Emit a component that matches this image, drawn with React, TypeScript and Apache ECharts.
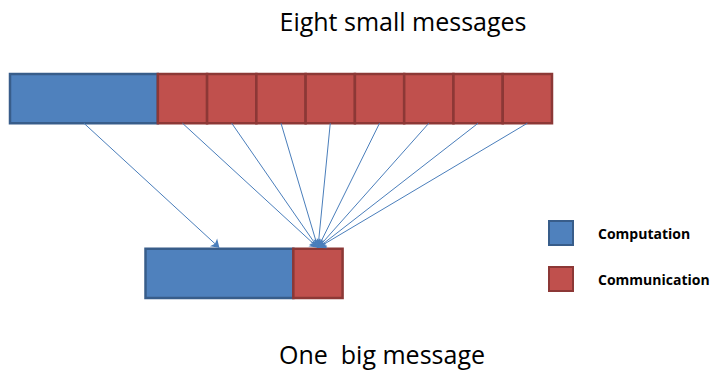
import React, { useEffect, useRef } from "react";
import * as echarts from "echarts";

// Two transfers of the same payload: the upper row sends it as eight small
// messages, the lower row as one big message. Lengths are in message units.
const rowTitles = ["Eight small messages", "One  big message"];
const rowStart = [0, 2.75];
const rowTop = [0, 3.55];
const rowHeight = 1;
const computationLength = [3, 3];
const messageLengths = [
  [1, 1, 1, 1, 1, 1, 1, 1],
  [1],
];
const legendNames = ["Computation", "Communication"];

const BLUE = "#4F81BD";
const BLUE_EDGE = "#385D8A";
const RED = "#C0504D";
const RED_EDGE = "#8C3836";
const ARROW = "#4A7EBB";
const FONT = "'Open Sans', 'Noto Sans', sans-serif";

type Seg = [number, number, number, number];

function buildSegments() {
  const comp: Seg[] = [];
  const comm: Seg[] = [];
  rowStart.forEach((start, r) => {
    const y0 = rowTop[r];
    const y1 = y0 + rowHeight;
    let x = start;
    comp.push([x, x + computationLength[r], y0, y1]);
    x += computationLength[r];
    messageLengths[r].forEach((len) => {
      comm.push([x, x + len, y0, y1]);
      x += len;
    });
  });
  return { comp, comm };
}

function buildArrows(comp: Seg[], comm: Seg[]) {
  const mid = (s: Seg) => (s[0] + s[1]) / 2;
  const topComm = comm.slice(0, messageLengths[0].length);
  const bottomComm = comm[messageLengths[0].length];
  const fromY = rowTop[0] + rowHeight;
  const toY = rowTop[1] - 0.02;
  const arrows = [
    { coords: [[mid(comp[0]), fromY], [mid(comp[1]), toY]] },
  ];
  topComm.forEach((s) => {
    arrows.push({ coords: [[mid(s), fromY], [mid(bottomComm), toY]] });
  });
  return arrows;
}

function rectSeries(name: string, data: Seg[], fill: string, edge: string) {
  return {
    type: "custom",
    name,
    data,
    encode: { x: [0, 1], y: [2, 3] },
    itemStyle: { color: fill, borderColor: edge, borderWidth: 2 },
    renderItem: (_params: any, api: any) => {
      const p0 = api.coord([api.value(0), api.value(2)]);
      const p1 = api.coord([api.value(1), api.value(3)]);
      return {
        type: "rect",
        shape: {
          x: p0[0],
          y: p0[1],
          width: p1[0] - p0[0],
          height: p1[1] - p0[1],
        },
        style: { fill, stroke: edge, lineWidth: 2.5 },
      };
    },
  };
}

export default function App() {
  const ref = useRef<HTMLDivElement>(null);

  useEffect(() => {
    if (!ref.current) return;
    const chart = echarts.init(ref.current, null, { renderer: "svg" });
    const { comp, comm } = buildSegments();
    const arrows = buildArrows(comp, comm);

    chart.setOption({
      animation: false,
      backgroundColor: "#ffffff",
      grid: { left: 10, top: 74, width: 542, height: 224 },
      xAxis: { type: "value", min: 0, max: 11, show: false },
      yAxis: { type: "value", min: 0, max: 4.55, inverse: true, show: false },
      legend: {
        orient: "vertical",
        left: 548,
        top: 220,
        padding: 0,
        itemWidth: 24,
        itemHeight: 24,
        itemGap: 20,
        icon: "rect",
        data: legendNames,
        textStyle: {
          fontFamily: FONT,
          fontWeight: "bold",
          fontSize: 14,
          color: "#000000",
          padding: [0, 0, 0, 20],
        },
      },
      series: [
        rectSeries(legendNames[0], comp, BLUE, BLUE_EDGE),
        rectSeries(legendNames[1], comm, RED, RED_EDGE),
        {
          type: "lines",
          coordinateSystem: "cartesian2d",
          data: arrows,
          symbol: ["none", "arrow"],
          symbolSize: 8,
          lineStyle: { color: ARROW, width: 1, opacity: 1 },
          z: 5,
        },
      ],
      graphic: [
        {
          type: "text",
          style: {
            x: 403,
            y: 21,
            text: rowTitles[0],
            textAlign: "center",
            textVerticalAlign: "middle",
            font: `25px ${FONT}`,
            fill: "#000000",
          },
        },
        {
          type: "text",
          style: {
            x: 382,
            y: 354,
            text: rowTitles[1],
            textAlign: "center",
            textVerticalAlign: "middle",
            font: `25px ${FONT}`,
            fill: "#000000",
          },
        },
      ],
    });
    return () => chart.dispose();
  }, []);

  return (
    <div
      ref={ref}
      style={{ position: "fixed", left: 0, top: 0, width: 711, height: 372 }}
    />
  );
}
